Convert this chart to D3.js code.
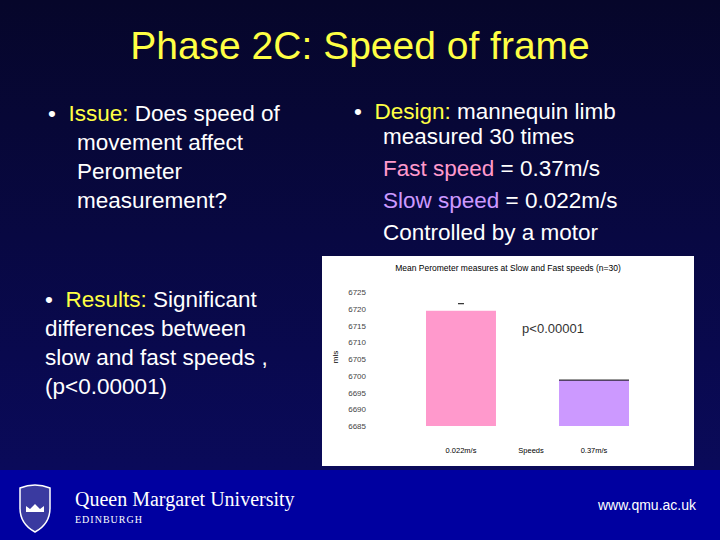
<!DOCTYPE html><html><head><meta charset="utf-8"><script src="https://cdn.jsdelivr.net/npm/d3@7"></script>
<style>body{margin:0}svg{display:block}</style></head><body><svg id="s" width="720" height="540"></svg>
<script>
const categories=["0.022m/s","0.37m/s"];
const values=[6719.4,6698.7];
const errTop=[6721.5,6698.7];
const ticks=[6685,6690,6695,6700,6705,6710,6715,6720,6725];
const colors=["#ff99cc","#cc99ff"];
const svg=d3.select("#s");
const defs=svg.append("defs");
const g=defs.append("linearGradient").attr("id","bg").attr("x1",0).attr("x2",0).attr("y1",0).attr("y2",1);
g.append("stop").attr("offset","0").attr("stop-color","#06062a");
g.append("stop").attr("offset","1").attr("stop-color","#0a0a5a");
svg.append("rect").attr("width",720).attr("height",470).attr("fill","url(#bg)");
svg.append("rect").attr("y",470).attr("width",720).attr("height",70).attr("fill","#0000a0");
const Y="#ffff44",W="#ffffff",A="Liberation Sans, Arial, sans-serif";
svg.append("text").attr("x",360).attr("y",59).attr("text-anchor","middle").attr("fill",Y).attr("font-family",A).attr("font-size",39).text("Phase 2C: Speed of frame");
function lines(x,y,arr,lh){arr.forEach((l,i)=>{const t=svg.append("text").attr("x",x).attr("y",y+i*lh).attr("font-family",A).attr("font-size",22.5).attr("fill",W).attr("xml:space","preserve");l.forEach(p=>t.append("tspan").attr("fill",p[1]||W).text(p[0]));});}
lines(48,121,[[["•  "],["Issue:",Y],[" Does speed of"]]],29);
lines(77,150,[[["movement affect"]],[["Perometer"]],[["measurement?"]]],29);
lines(354,119,[[["•  "],["Design:",Y],[" mannequin limb"]]],29);
lines(383,144,[[["measured 30 times"]],[["Fast speed","#ff99cc"],[" = 0.37m/s"]],[["Slow speed","#cc99ff"],[" = 0.022m/s"]],[["Controlled by a motor"]]],32);
lines(45,307,[[["•  "],["Results:",Y],[" Significant"]],[["differences between"]],[["slow and fast speeds ,"]],[["(p<0.00001)"]]],29);
// chart
svg.append("rect").attr("x",322).attr("y",256).attr("width",372).attr("height",210).attr("fill","#fff");
const y=d3.scaleLinear().domain([6685,6725]).range([426,292]);
const x=d3.scaleBand().domain(categories).range([372.8,682.2]).paddingInner(0.474).paddingOuter(0.4);
const c=svg.append("g").attr("font-family",A);
c.append("text").attr("x",508).attr("y",271).attr("text-anchor","middle").attr("font-size",8.5).text("Mean Perometer measures at Slow and Fast speeds (n=30)");
const ax=c.append("g").attr("transform","translate(368,0)").call(d3.axisLeft(y).tickValues(ticks).tickFormat(d3.format("d")).tickSize(0).tickPadding(2));
ax.select(".domain").remove();ax.selectAll("text").attr("font-size",8).attr("fill","#444").attr("text-anchor","end");
c.append("text").attr("transform","translate(338,357) rotate(-90)").attr("text-anchor","middle").attr("font-size",8).text("mls");
c.selectAll("rect.b").data(values).join("rect").attr("x",(d,i)=>x(categories[i])).attr("width",x.bandwidth()).attr("y",d=>y(d)).attr("height",d=>y(6685)-y(d)).attr("fill",(d,i)=>colors[i]);
c.append("line").attr("x1",x(categories[0])+x.bandwidth()/2-3).attr("x2",x(categories[0])+x.bandwidth()/2+3).attr("y1",y(errTop[0])).attr("y2",y(errTop[0])).attr("stroke","#000");
c.append("line").attr("x1",x(categories[1])).attr("x2",x(categories[1])+x.bandwidth()).attr("y1",y(errTop[1])).attr("y2",y(errTop[1])).attr("stroke","#000");
c.append("text").attr("x",553).attr("y",333).attr("text-anchor","middle").attr("font-size",13).attr("fill","#333").text("p<0.00001");
categories.forEach((k,i)=>c.append("text").attr("x",x(k)+x.bandwidth()/2).attr("y",453).attr("text-anchor","middle").attr("font-size",7.5).text(k));
c.append("text").attr("x",531).attr("y",453).attr("text-anchor","middle").attr("font-size",7.5).text("Speeds");
// footer
const sh=svg.append("g").attr("transform","translate(20,486)");
sh.append("path").attr("d","M0,2 Q15,-4 30,2 L30,22 Q30,38 15,46 Q0,38 0,22 Z").attr("fill","#3a3aa0").attr("stroke","#fff").attr("stroke-width",1.5);
sh.append("path").attr("d","M6,26 L24,26 L24,20 L20,23 L15,18 L10,23 L6,20 Z").attr("fill","#fff");
svg.append("text").attr("x",75).attr("y",506).attr("fill","#fff").attr("font-family","Liberation Serif, serif").attr("font-size",20).text("Queen Margaret University");
svg.append("text").attr("x",75).attr("y",523).attr("fill","#fff").attr("font-family","Liberation Serif, serif").attr("font-size",10).attr("letter-spacing",1).text("EDINBURGH");
svg.append("text").attr("x",696).attr("y",510).attr("text-anchor","end").attr("fill","#fff").attr("font-family",A).attr("font-size",14).text("www.qmu.ac.uk");
</script></body></html>
